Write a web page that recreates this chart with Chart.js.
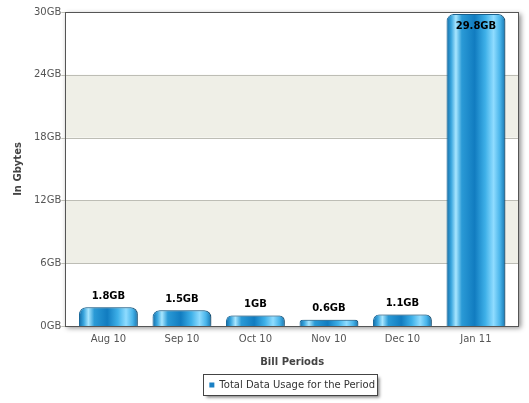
<!DOCTYPE html>
<html><head><meta charset="utf-8">
<script src="https://cdn.jsdelivr.net/npm/chart.js@4/dist/chart.umd.min.js"></script>
<style>html,body{margin:0;padding:0;background:#fff}#wrap{width:529px;height:403px}</style>
</head><body><div id="wrap"><canvas id="c" width="529" height="403"></canvas></div>
<script>
const categories = ["Aug 10","Sep 10","Oct 10","Nov 10","Dec 10","Jan 11"];
const usageGB = [1.8, 1.5, 1.0, 0.6, 1.1, 29.8];
const valueLabels = ["1.8GB","1.5GB","1GB","0.6GB","1.1GB","29.8GB"];
const yTicks = [0,6,12,18,24,30];
const seriesName = "Total Data Usage for the Period";

const FONT = "'DejaVu Sans', sans-serif";
const BAR_PCT = 0.8;
const X_EDGE = 0.586;

function barGradient(ctx){
  const chart = ctx.chart;
  const xs = chart.scales && chart.scales.x;
  if (!xs || ctx.dataIndex === undefined) return '#1e8fd0';
  const cx = xs.getPixelForValue(ctx.dataIndex);
  const w = (xs.getPixelForValue(1) - xs.getPixelForValue(0)) * BAR_PCT;
  const x0 = cx - w/2, x1 = cx + w/2;
  const g = chart.ctx.createLinearGradient(x0, 0, x1, 0);
  g.addColorStop(0.00, '#0f6aa6');
  g.addColorStop(0.08, '#3aa6de');
  g.addColorStop(0.16, '#a8e6ff');
  g.addColorStop(0.26, '#2a9ad6');
  g.addColorStop(0.48, '#117cc0');
  g.addColorStop(0.66, '#3eb0e8');
  g.addColorStop(0.80, '#8fdcff');
  g.addColorStop(0.91, '#48b4ea');
  g.addColorStop(1.00, '#1675b0');
  return g;
}

const framePlugin = {
  id: 'frame',
  beforeDatasetsDraw(chart){
    const {ctx, chartArea:a, scales:{y}} = chart;
    ctx.save();
    for (let i=0;i<yTicks.length-1;i++){
      if (i % 2 === 1){
        const top = y.getPixelForValue(yTicks[i+1]);
        const bot = y.getPixelForValue(yTicks[i]);
        ctx.fillStyle = '#efefe7';
        ctx.fillRect(a.left, top, a.right-a.left, bot-top);
      }
    }
    ctx.strokeStyle = '#bdbdb5';
    ctx.lineWidth = 1;
    for (let i=0;i<yTicks.length;i++){
      const py = Math.round(y.getPixelForValue(yTicks[i])) + 0.5;
      ctx.beginPath();
      ctx.moveTo(a.left - 4, py);
      ctx.lineTo((i>0 && i<yTicks.length-1) ? a.right : a.left, py);
      ctx.stroke();
    }
    ctx.restore();
    ctx.save();
    ctx.shadowColor = 'rgba(0,0,0,0.35)';
    ctx.shadowBlur = 3; ctx.shadowOffsetX = 2; ctx.shadowOffsetY = 0;
  },
  afterDatasetsDraw(chart){
    const {ctx, chartArea:a} = chart;
    ctx.restore();
    ctx.save();
    ctx.strokeStyle = '#555';
    ctx.lineWidth = 1;
    ctx.strokeRect(Math.round(a.left)+0.5, Math.round(a.top)+0.5, Math.round(a.right-a.left)-1, Math.round(a.bottom-a.top));
    const meta = chart.getDatasetMeta(0);
    ctx.font = "bold 10px " + FONT;
    ctx.fillStyle = '#000';
    ctx.textAlign = 'center';
    ctx.textBaseline = 'middle';
    meta.data.forEach((bar, i) => {
      let ty = bar.y - 11;
      if (ty < a.top + 6) ty = bar.y + 12;
      ctx.fillText(valueLabels[i], bar.x, ty);
    });
    ctx.restore();
  },
  beforeDraw(chart){
    const {ctx, chartArea:a} = chart;
    ctx.save();
    ctx.shadowColor = 'rgba(0,0,0,0.45)';
    ctx.shadowBlur = 5; ctx.shadowOffsetX = 2; ctx.shadowOffsetY = 2;
    ctx.fillStyle = '#fff';
    ctx.fillRect(a.left, a.top, a.right-a.left, a.bottom-a.top);
    ctx.restore();
    const lg = chart.legend;
    if (lg && lg.legendHitBoxes && lg.legendHitBoxes.length){
      const hb = lg.legendHitBoxes[0];
      ctx.save();
      const bx = Math.round(hb.left) - 5.5, by = Math.round(hb.top + hb.height/2) - 10.5;
      const bw = Math.round(hb.width) + 8, bh = 21;
      ctx.shadowColor = 'rgba(0,0,0,0.5)';
      ctx.shadowBlur = 3; ctx.shadowOffsetX = 2; ctx.shadowOffsetY = 2;
      ctx.fillStyle = '#fff';
      ctx.fillRect(bx, by, bw, bh);
      ctx.shadowColor = 'transparent';
      ctx.strokeStyle = '#444';
      ctx.lineWidth = 1;
      ctx.strokeRect(bx, by, bw, bh);
      ctx.restore();
    }
  }
};

new Chart(document.getElementById('c'), {
  type: 'bar',
  data: {
    datasets: [{
      label: seriesName,
      data: usageGB.map((v, i) => ({x: i, y: v})),
      backgroundColor: barGradient,
      borderColor: '#1c6c9e',
      borderWidth: 1,
      borderSkipped: 'bottom',
      borderRadius: {topLeft: 7, topRight: 7, bottomLeft: 0, bottomRight: 0},
      barPercentage: BAR_PCT,
      categoryPercentage: 1.0
    }]
  },
  options: {
    responsive: false,
    animation: false,
    devicePixelRatio: 1,
    layout: { padding: { top: 12, right: 10, left: 12, bottom: 3 } },
    plugins: {
      tooltip: { enabled: false },
      legend: {
        position: 'bottom',
        fullSize: false,
        labels: {
          font: { family: FONT, size: 10 },
          color: '#333',
          boxWidth: 5, boxHeight: 5,
          padding: 10,
          generateLabels(chart){
            return [{ text: seriesName, fillStyle: '#1a80c4', strokeStyle: '#1a80c4', lineWidth: 0, datasetIndex: 0, fontColor: '#333' }];
          }
        }
      }
    },
    scales: {
      x: {
        type: 'linear',
        offset: false,
        min: -X_EDGE, max: categories.length - 1 + X_EDGE,
        afterBuildTicks(axis){ axis.ticks = categories.map((c, i) => ({value: i})); },
        grid: { display: false, drawTicks: false },
        border: { display: false },
        ticks: { font: { family: FONT, size: 10 }, color: '#555', padding: 7, autoSkip: false, maxRotation: 0, callback: (v) => categories[v] },
        title: { display: true, text: 'Bill Periods', font: { family: FONT, size: 10, weight: 'bold' }, color: '#444', padding: { top: 4, bottom: 2 } }
      },
      y: {
        min: 0, max: 30,
        afterBuildTicks(axis){ axis.ticks = yTicks.map(v => ({value: v})); },
        grid: { display: false, drawTicks: false },
        border: { display: false },
        ticks: { font: { family: FONT, size: 10 }, color: '#555', padding: 4, callback: v => v + 'GB' },
        title: { display: true, text: 'In Gbytes', font: { family: FONT, size: 10, weight: 'bold' }, color: '#444', padding: { top: 0, bottom: 6 } }
      }
    }
  },
  plugins: [framePlugin]
});
</script>
</body></html>
